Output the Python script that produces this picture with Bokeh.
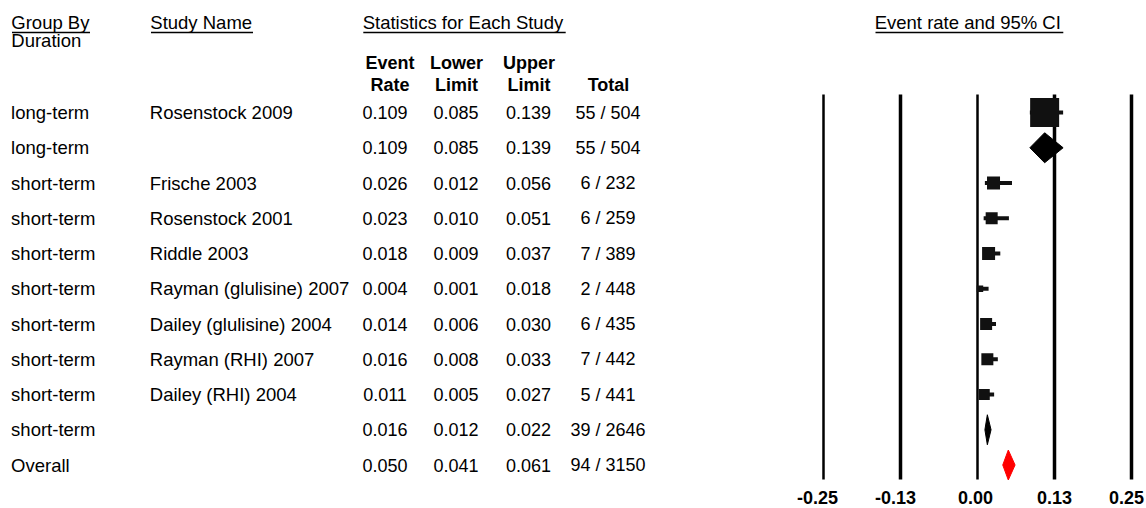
from bokeh.plotting import figure
from bokeh.models import Range1d, ColumnDataSource
from bokeh.core.properties import value
from bokeh.embed import file_html
from bokeh.resources import INLINE

# ---------------- data ----------------
groups = ["long-term", "long-term", "short-term", "short-term", "short-term", "short-term",
          "short-term", "short-term", "short-term", "short-term", "Overall"]
studies = ["Rosenstock 2009", "", "Frische 2003", "Rosenstock 2001", "Riddle 2003",
           "Rayman (glulisine) 2007", "Dailey (glulisine) 2004", "Rayman (RHI) 2007",
           "Dailey (RHI) 2004", "", ""]
event_rate = [0.109, 0.109, 0.026, 0.023, 0.018, 0.004, 0.014, 0.016, 0.011, 0.016, 0.050]
lower_limit = [0.085, 0.085, 0.012, 0.010, 0.009, 0.001, 0.006, 0.008, 0.005, 0.012, 0.041]
upper_limit = [0.139, 0.139, 0.056, 0.051, 0.037, 0.018, 0.030, 0.033, 0.027, 0.022, 0.061]
events = [55, 55, 6, 6, 7, 2, 6, 7, 5, 39, 94]
totals = [504, 504, 232, 259, 389, 448, 435, 442, 441, 2646, 3150]
row_kind = ["study", "subtotal", "study", "study", "study", "study", "study", "study",
            "study", "subtotal", "overall"]
tick_values = [-0.25, -0.125, 0.0, 0.125, 0.25]
tick_labels = ["-0.25", "-0.13", "0.00", "0.13", "0.25"]

# ---------------- styles / layout ----------------
square_px = {0: 29, 2: 13, 3: 12, 4: 13, 5: 6.5, 6: 12, 7: 12, 8: 11}
FONT = value("Liberation Sans")
W, H = 1146, 508
ZERO_PX, PX_PER_UNIT = 977.0, 616.0
ROW0_PX, ROW_PX = 112.0, 35.25

p = figure(width=W, height=H, output_backend="svg", toolbar_location=None,
           x_range=Range1d(0, W), y_range=Range1d(H, 0),
           min_border=0, min_border_left=0, min_border_right=0,
           min_border_top=0, min_border_bottom=0,
           x_axis_location=None, y_axis_location=None, outline_line_color=None)
p.xgrid.visible = False
p.ygrid.visible = False
p.extra_x_ranges = {"rate": Range1d((0 - ZERO_PX) / PX_PER_UNIT, (W - ZERO_PX) / PX_PER_UNIT)}
p.extra_y_ranges = {"row": Range1d((H - ROW0_PX) / ROW_PX, (0 - ROW0_PX) / ROW_PX)}

rows = list(range(len(groups)))

# ---- headers ----
hdr = ColumnDataSource(dict(
    x=[10.8, 10.8, 149.8, 362.2, 874.2],
    y=[22.3, 40.0, 22.3, 22.0, 22.0],
    t=["Group By", "Duration", "Study Name", "Statistics for Each Study", "Event rate and 95% CI"]))
p.text(x="x", y="y", text="t", source=hdr, text_font=FONT, text_font_size="18.5px",
       text_align="left", text_baseline="alphabetic", text_color="black")
p.segment(x0=[11.5, 150.5, 362.8, 875.0], x1=[89.5, 252.5, 565.2, 1062.8],
          y0=[32.0] * 4, y1=[32.0] * 4, line_color="black", line_width=1.4)

sub = ColumnDataSource(dict(
    x=[389.5, 456, 528.5, 389.5, 456, 528.5, 608],
    y=[62.5, 62.5, 62.5, 84.5, 84.5, 84.5, 84.5],
    t=["Event", "Lower", "Upper", "Rate", "Limit", "Limit", "Total"]))
p.text(x="x", y="y", text="t", source=sub, text_font=FONT, text_font_size="18px",
       text_font_style="bold", text_align="center", text_baseline="alphabetic",
       text_color="black")

# ---- table body ----
tbl = ColumnDataSource(dict(
    row=rows, group=groups, study=studies,
    er=[f"{v:.3f}" for v in event_rate],
    lo=[f"{v:.3f}" for v in lower_limit],
    hi=[f"{v:.3f}" for v in upper_limit],
    tot=[f"{e} / {n}" for e, n in zip(events, totals)]))
common = dict(source=tbl, text_font=FONT, text_baseline="alphabetic",
              text_color="black", y_range_name="row")
p.text(x=10.6, y="row", text="group", text_align="left", text_font_size="18.5px", **common)
p.text(x=149.3, y="row", text="study", text_align="left", text_font_size="18.5px", **common)
p.text(x=384.5, y="row", text="er", text_align="center", text_font_size="18px", **common)
p.text(x=455.5, y="row", text="lo", text_align="center", text_font_size="18px", **common)
p.text(x=528.0, y="row", text="hi", text_align="center", text_font_size="18px", **common)
p.text(x=607.5, y="row", text="tot", text_align="center", text_font_size="18px", **common)

# ---- forest plot ----
p.segment(x0=tick_values, x1=tick_values, y0=[94] * 5, y1=[479] * 5,
          line_color="black", line_width=[2.5, 3.5, 2.5, 3.5, 3.5], x_range_name="rate")

ticks = ColumnDataSource(dict(x=tick_values, t=tick_labels, off=[-6, -5, -2, 0, -5]))
p.text(x="x", y=496.5, text="t", source=ticks, x_offset="off", text_font=FONT,
       text_font_size="18px", text_font_style="bold", text_align="center",
       text_baseline="alphabetic", text_color="black", x_range_name="rate")

study_idx = [i for i in rows if row_kind[i] == "study"]
st = ColumnDataSource(dict(
    row=study_idx,
    est=[event_rate[i] for i in study_idx],
    lo=[lower_limit[i] for i in study_idx],
    hi=[upper_limit[i] for i in study_idx],
    size=[square_px[i] for i in study_idx]))
p.segment(x0="lo", x1="hi", y0="row", y1="row", source=st, line_color="#111111",
          line_width=4, x_range_name="rate", y_range_name="row")
p.scatter(x="est", y="row", size="size", marker="square", source=st,
          fill_color="#111111", line_color=None, x_range_name="rate", y_range_name="row")

half_h = 15.0 / ROW_PX
sum_idx = [i for i in rows if row_kind[i] != "study"]
dm = ColumnDataSource(dict(
    xs=[[lower_limit[i], event_rate[i], upper_limit[i], event_rate[i]] for i in sum_idx],
    ys=[[i, i - half_h, i, i + half_h] for i in sum_idx],
    c=["red" if row_kind[i] == "overall" else "black" for i in sum_idx]))
p.patches(xs="xs", ys="ys", source=dm, fill_color="c", line_color="c", line_width=1,
          x_range_name="rate", y_range_name="row")

open("out.html", "w").write(file_html(p, INLINE))
